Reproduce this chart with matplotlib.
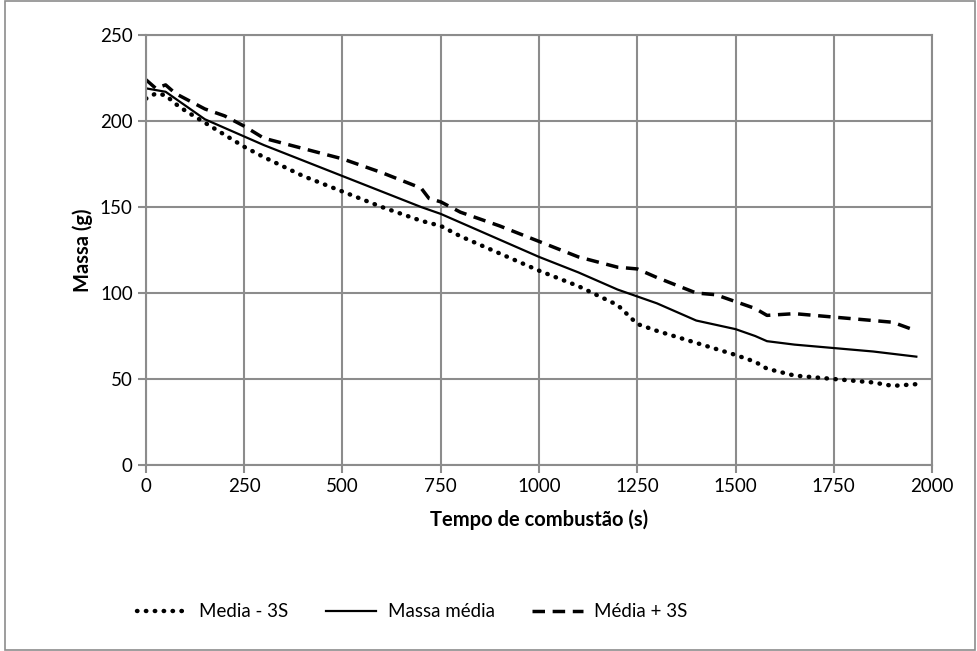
import matplotlib.pyplot as plt
from matplotlib.patches import Rectangle

plt.rcParams['font.family'] = ['Lato', 'DejaVu Sans']

# tempo (s) e massa (g) para cada serie
t_low = [0, 25, 50, 75, 100, 150, 200, 250, 300, 400, 500, 600, 700, 750, 800, 900,
         1000, 1100, 1200, 1250, 1300, 1400, 1500, 1550, 1580, 1650, 1750, 1850, 1900, 1960]
m_low = [213, 216, 215, 210, 206, 199, 192, 185, 179, 168, 159, 150, 142, 139, 133, 123,
         113, 104, 93, 82, 78, 71, 64, 60, 56, 52, 50, 48, 46, 47]

t_mean = [0, 25, 50, 75, 100, 150, 200, 250, 300, 400, 500, 600, 700, 750, 800, 900,
          1000, 1100, 1200, 1250, 1300, 1400, 1500, 1550, 1580, 1650, 1750, 1850, 1960]
m_mean = [219, 218, 217, 213, 209, 201, 196, 191, 186, 177, 168, 159, 150, 146, 141, 131,
          121, 112, 102, 98, 94, 84, 79, 75, 72, 70, 68, 66, 63]

t_up = [0, 25, 50, 75, 100, 150, 200, 250, 300, 400, 500, 600, 700, 720, 750, 800, 900,
        1000, 1100, 1200, 1250, 1300, 1400, 1450, 1500, 1550, 1580, 1650, 1750, 1850, 1900, 1960]
m_up = [224, 219, 221, 216, 213, 207, 203, 197, 190, 184, 178, 170, 161, 155, 153, 147, 139,
        130, 121, 115, 114, 109, 100, 99, 95, 91, 87, 88, 86, 84, 83, 78]

fig = plt.figure(figsize=(9.77, 6.51), dpi=100)
ax = fig.add_axes([0.1494, 0.2857, 0.8046, 0.6605])

ax.plot(t_low, m_low, color='black', lw=3.2, linestyle=(0, (0.1, 1.9)),
        dash_capstyle='round', label='Media - 3S')
ax.plot(t_mean, m_mean, color='black', lw=1.6, label='Massa média')
ax.plot(t_up, m_up, color='black', lw=2.5, linestyle=(0, (3.6, 2.2)), label='Média + 3S')

ax.set_xlim(0, 2000)
ax.set_ylim(0, 250)
ax.set_xticks(range(0, 2001, 250))
ax.set_yticks(range(0, 251, 50))
ax.grid(True, color='#8c8c8c', lw=1.5)
ax.set_axisbelow(True)
for s in ax.spines.values():
    s.set_color('#8c8c8c')
    s.set_linewidth(1.5)
ax.tick_params(colors='#8c8c8c', labelcolor='black', labelsize=13.5, length=6, width=1.5)

ax.set_xlabel('Tempo de combustão (s)', fontsize=14.5, fontweight='bold', labelpad=10)
ax.set_ylabel('Massa (g)', fontsize=14.5, fontweight='bold', labelpad=5)

fig.legend(loc='center', bbox_to_anchor=(0.422, 0.06), ncol=3, frameon=False,
           fontsize=13.5, handlelength=2.7, columnspacing=2.0, handletextpad=0.6)

# borda externa
fig.patches.append(Rectangle((0.005, 0.001), 0.993, 0.997, transform=fig.transFigure,
                             fill=False, edgecolor='#8c8c8c', lw=1.2))

fig.savefig('out.png', dpi=100)
